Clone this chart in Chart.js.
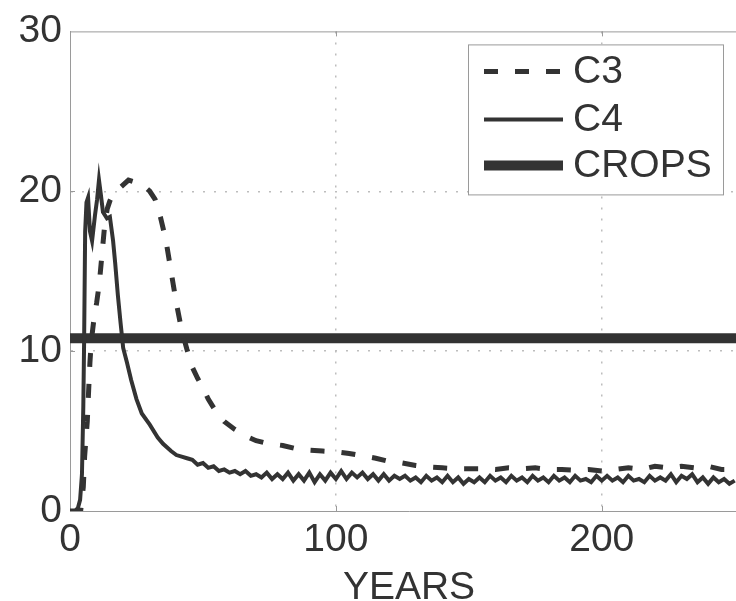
<!DOCTYPE html>
<html>
<head>
<meta charset="utf-8">
<script src="https://cdn.jsdelivr.net/npm/chart.js@4.4.1/dist/chart.umd.min.js"></script>
<style>
  html, body { margin: 0; padding: 0; background: #fff; overflow: hidden; }
  #wrap { width: 760px; height: 601px; }
</style>
</head>
<body>
<div id="wrap"><canvas id="grafica" width="760" height="601"></canvas></div>
<script>
const c3Years = [0, 4, 5, 5.5, 6, 6.5, 7, 7.5, 8, 9, 10, 11, 12, 13, 14, 15, 16, 17, 18, 20,
  22, 24, 26, 28, 30, 32, 34, 36, 38, 40, 42, 44, 46, 48, 50, 52, 55, 58, 62, 66,
  70, 75, 80, 85, 90, 95, 100, 105, 110, 115, 120, 125, 130, 135, 140, 145, 150, 155, 160, 165,
  170, 175, 180, 185, 190, 195, 200, 205, 210, 215, 220, 225, 230, 235, 240, 245, 250];
const c3Values = [0, 0, 1.5, 3.4, 4.5, 5.6, 7.5, 9.3, 10.6, 12.0, 13.0, 14.2, 16.0, 17.8, 18.9, 19.4, 19.7, 19.9, 20.1, 20.4,
  20.7, 20.6, 20.5, 20.3, 20.0, 19.5, 18.4, 17.0, 15.0, 13.0, 11.3, 10.1, 9.0, 8.3, 7.7, 7.0, 6.2, 5.6, 5.1, 4.7,
  4.4, 4.2, 4.1, 3.9, 3.8, 3.75, 3.7, 3.6, 3.45, 3.3, 3.1, 3.0, 2.85, 2.75, 2.7, 2.65, 2.65, 2.65, 2.6, 2.7,
  2.65, 2.7, 2.6, 2.6, 2.55, 2.6, 2.5, 2.6, 2.7, 2.6, 2.8, 2.7, 2.8, 2.7, 2.8, 2.6, 2.6];

const c4Years = [0, 2, 3, 3.8, 4.5, 5, 5.3, 5.7, 6.2, 6.8, 7.5, 8.3, 9.4, 10.2, 10.9, 11.6, 12.4, 13.9, 15, 16.2,
  17, 18, 19, 20, 21.4, 23, 25, 27, 30, 33, 35, 38, 40,
  42, 44, 46, 48, 50, 52, 54, 56, 58, 60, 62, 64, 66, 68, 70, 72, 74, 76, 78, 80,
  82, 84, 86, 88, 90, 92, 94, 96, 98, 100, 102, 104, 106, 108, 110, 112, 114, 116, 118, 120,
  122, 124, 126, 128, 130, 132, 134, 136, 138, 140, 142, 144, 146, 148, 150, 152, 154, 156, 158, 160,
  162, 164, 166, 168, 170, 172, 174, 176, 178, 180, 182, 184, 186, 188, 190, 192, 194, 196, 198, 200,
  202, 204, 206, 208, 210, 212, 214, 216, 218, 220, 222, 224, 226, 228, 230, 232, 234, 236, 238, 240,
  242, 244, 246, 248, 250];
const c4Values = [0, 0, 0.2, 0.7, 2.3, 6.5, 10.5, 17.5, 19.3, 19.6, 17.5, 16.9, 18.5, 19.5, 20.7, 19.8, 18.7, 18.3, 18.4, 16.9,
  15.5, 13.5, 11.8, 10.2, 9.3, 8.2, 7.0, 6.1, 5.4, 4.6, 4.2, 3.75, 3.5,
  3.4, 3.3, 3.2, 2.9, 3.0, 2.7, 2.8, 2.5, 2.6, 2.4, 2.5, 2.3, 2.5, 2.2, 2.3, 2.1, 2.4, 2.0, 2.3, 2.0,
  2.4, 1.9, 2.3, 1.9, 2.4, 1.8, 2.3, 1.9, 2.4, 2.0, 2.5, 2.0, 2.4, 2.1, 2.4, 2.0, 2.3, 1.9, 2.3, 1.9,
  2.2, 2.0, 2.2, 1.9, 2.1, 1.8, 2.2, 1.9, 2.1, 1.8, 2.2, 1.8, 2.1, 1.7, 2.0, 1.8, 2.1, 1.8, 2.2, 1.9,
  2.1, 1.8, 2.2, 1.9, 2.1, 1.8, 2.2, 1.9, 2.1, 1.8, 2.2, 1.9, 2.1, 1.8, 2.2, 1.9, 2.0, 1.8, 2.2, 1.9,
  2.2, 1.9, 2.1, 1.8, 2.2, 1.9, 2.0, 1.8, 2.2, 1.9, 2.1, 1.9, 2.3, 1.8, 2.2, 2.0, 2.3, 1.8, 2.1, 1.7,
  2.1, 1.8, 2.0, 1.7, 1.9];

const cropYears = [0, 255];
const cropValues = [10.8, 10.8];

const xTicks = [0, 100, 200];
const yTicks = [0, 10, 20, 30];

const ink = "#333333";
const axisGray = "#9a9a9a";
const fuente = "'Liberation Sans', Arial, Helvetica, sans-serif";

function puntos(xs, ys) {
  return xs.map((x, i) => ({ x: x, y: ys[i] }));
}

const marco = {
  id: "marco",
  afterDraw(chart) {
    const { ctx, chartArea: a, scales } = chart;
    ctx.save();
    ctx.strokeStyle = axisGray;
    ctx.lineWidth = 1;
    ctx.beginPath();
    ctx.moveTo(a.left, a.top + 0.5);
    ctx.lineTo(a.right, a.top + 0.5);
    xTicks.slice(1).forEach((v) => {
      const px = Math.round(scales.x.getPixelForValue(v)) + 0.5;
      ctx.moveTo(px, a.bottom);
      ctx.lineTo(px, a.bottom - 5);
      ctx.moveTo(px, a.top);
      ctx.lineTo(px, a.top + 5);
    });
    yTicks.slice(1, -1).forEach((v) => {
      const py = Math.round(scales.y.getPixelForValue(v)) + 0.5;
      ctx.moveTo(a.left, py);
      ctx.lineTo(a.left + 5, py);
    });
    ctx.stroke();

    // leyenda
    const w = 255, h = 150;
    const bx = a.right - 25 - w, by = a.top + 13;
    ctx.fillStyle = "#fff";
    ctx.fillRect(bx, by, w, h);
    ctx.strokeStyle = axisGray;
    ctx.strokeRect(bx + 0.5, by + 0.5, w, h);
    const filas = [27, 75, 121];
    chart.data.datasets.forEach((ds, i) => {
      const y = by + filas[i];
      ctx.beginPath();
      ctx.strokeStyle = ds.borderColor;
      ctx.lineWidth = ds.borderWidth;
      ctx.lineCap = "butt";
      ctx.setLineDash(ds.borderDash || []);
      ctx.moveTo(bx + 16, y);
      ctx.lineTo(bx + 95, y);
      ctx.stroke();
      ctx.setLineDash([]);
      ctx.fillStyle = ink;
      ctx.font = "39px " + fuente;
      ctx.textBaseline = "middle";
      ctx.textAlign = "left";
      ctx.fillText(ds.label, bx + 105, y + 1);
    });
    ctx.restore();
  },
};

const ctx = document.getElementById("grafica").getContext("2d");
const grafica = new Chart(ctx, {
  type: "line",
  data: {
    datasets: [
      {
        label: "C3",
        data: puntos(c3Years, c3Values),
        borderColor: ink,
        borderWidth: 5,
        borderDash: [14, 17],
        pointRadius: 0,
        tension: 0,
      },
      {
        label: "C4",
        data: puntos(c4Years, c4Values),
        borderColor: ink,
        borderWidth: 4,
        pointRadius: 0,
        tension: 0,
      },
      {
        label: "CROPS",
        data: puntos(cropYears, cropValues),
        borderColor: ink,
        borderWidth: 10,
        borderCapStyle: "round",
        pointRadius: 0,
        tension: 0,
      },
    ],
  },
  options: {
    responsive: false,
    animation: false,
    layout: { padding: { top: 25, right: 12, left: 0, bottom: 0 } },
    plugins: { legend: { display: false }, tooltip: { enabled: false } },
    scales: {
      x: {
        type: "linear",
        min: 0,
        max: 255,
        afterFit: (s) => { s.height = 90; },
        ticks: {
          stepSize: 100,
          includeBounds: false,
          color: ink,
          padding: 6,
          maxRotation: 0,
          font: { family: fuente, size: 39 },
        },
        grid: {
          drawTicks: false,
          color: (c) => (c.tick && (c.tick.value === 100 || c.tick.value === 200) ? "#bdbdbd" : "transparent"),
          lineWidth: 1.5,
        },
        border: { display: true, color: axisGray, width: 1, dash: [2, 9] },
        title: {
          display: true,
          text: "YEARS",
          color: ink,
          font: { family: fuente, size: 39, lineHeight: 0.85 },
          padding: { top: 0, bottom: -4 },
        },
      },
      y: {
        min: 0,
        max: 30,
        afterFit: (s) => { s.width = 70; },
        ticks: {
          stepSize: 10,
          color: ink,
          padding: 8,
          font: { family: fuente, size: 39 },
        },
        grid: {
          drawTicks: false,
          color: (c) => (c.tick && (c.tick.value === 10 || c.tick.value === 20) ? "#bdbdbd" : "transparent"),
          lineWidth: 1.5,
        },
        border: { display: true, color: axisGray, width: 1, dash: [2, 9] },
      },
    },
  },
  plugins: [marco],
});
</script>
</body>
</html>
